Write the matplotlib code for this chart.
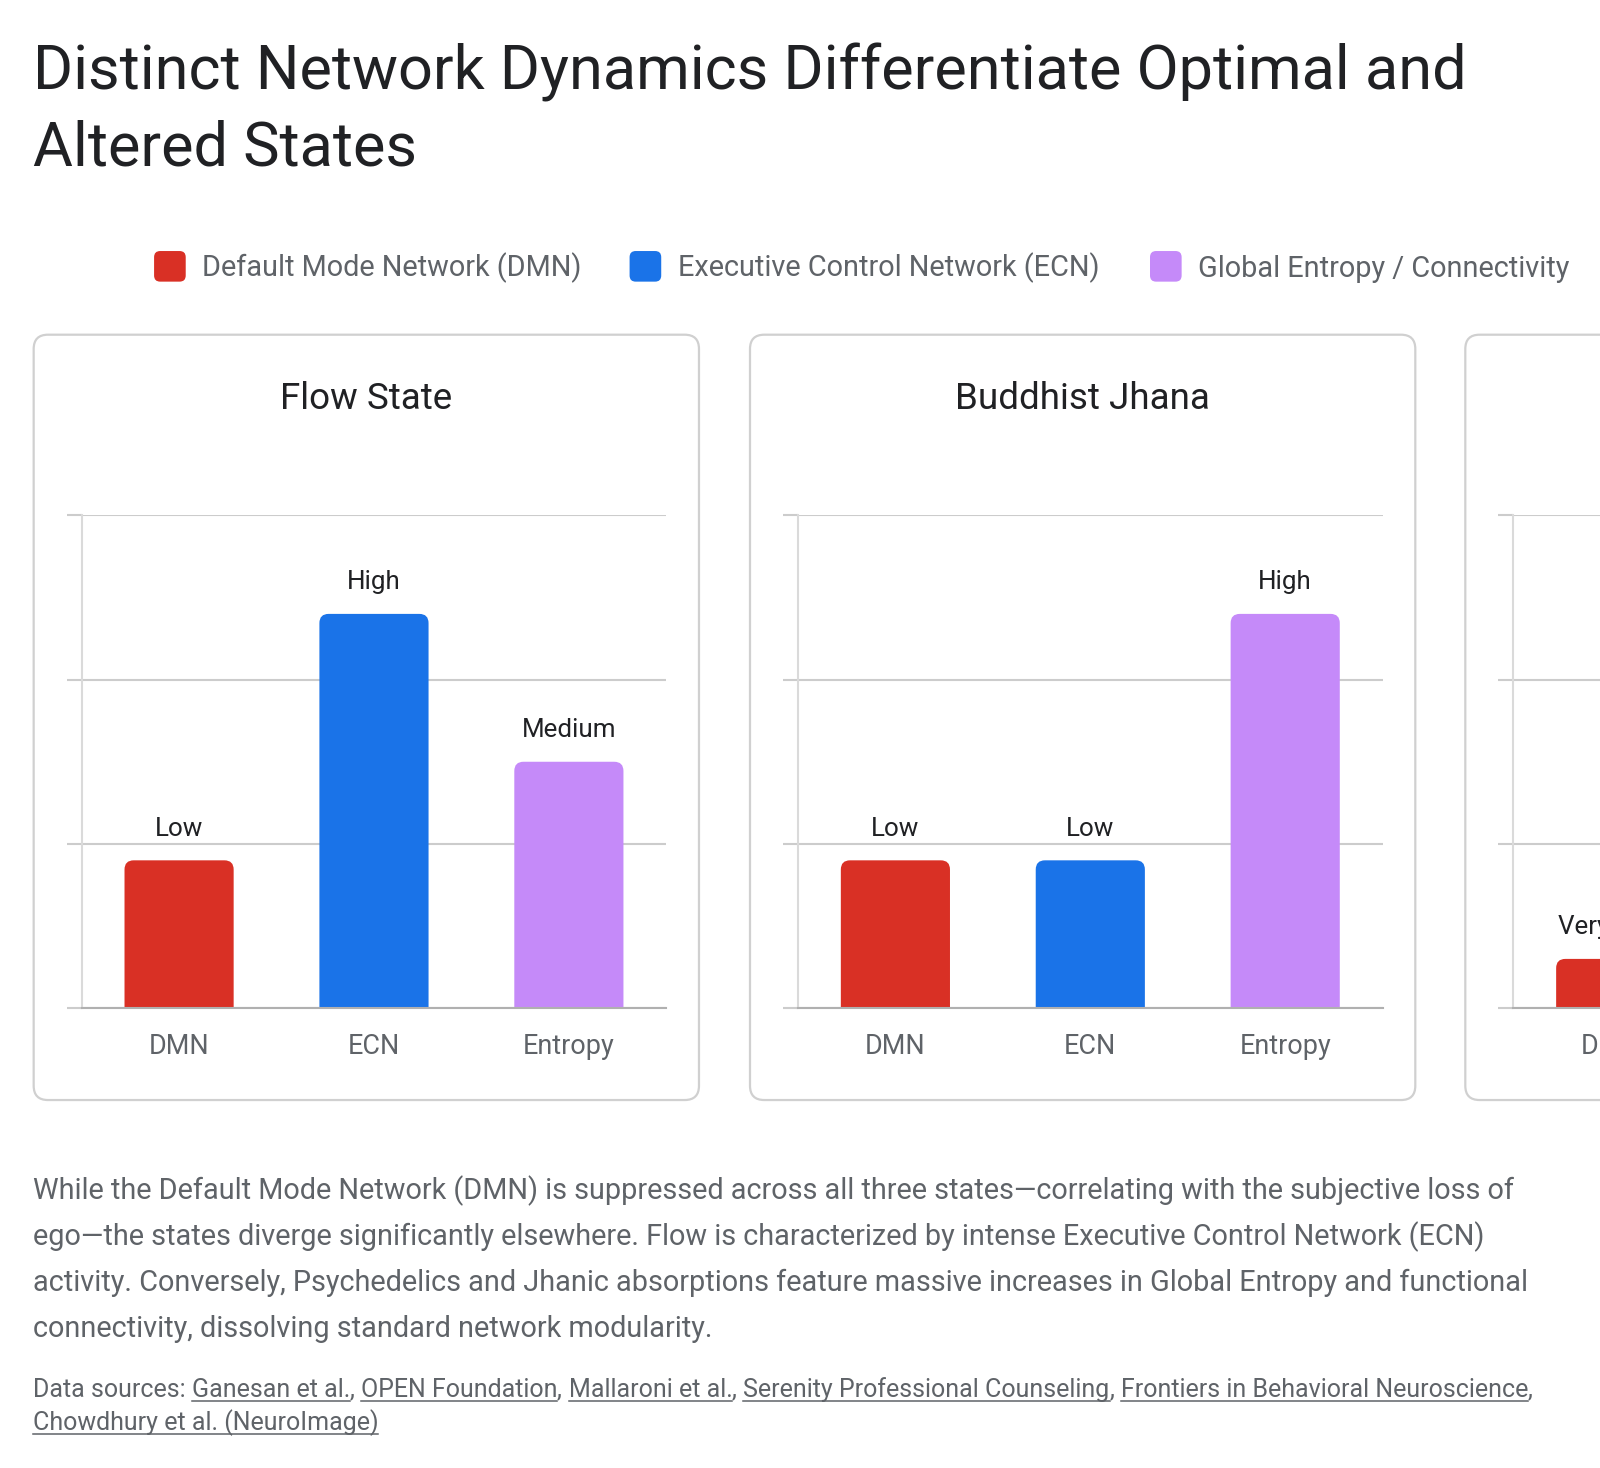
import matplotlib
matplotlib.use("Agg")
import matplotlib.pyplot as plt
from matplotlib.patches import FancyBboxPatch, PathPatch
from matplotlib.path import Path

# ---- data ----
states = ["Flow State", "Buddhist Jhana", "Psychedelic State"]
networks = ["DMN", "ECN", "Entropy"]
legend_labels = ["Default Mode Network (DMN)", "Executive Control Network (ECN)",
                 "Global Entropy / Connectivity"]
colors = ["#d93025", "#1a73e8", "#c58af9"]

flow_values = [30, 80, 50]
flow_labels = ["Low", "High", "Medium"]
jhana_values = [30, 30, 80]
jhana_labels = ["Low", "Low", "High"]
psy_values = [10, 30, 95]
psy_labels = ["Very Low", "Low", "Very High"]

all_values = [flow_values, jhana_values, psy_values]
all_labels = [flow_labels, jhana_labels, psy_labels]

title_lines = ["Distinct Network Dynamics Differentiate Optimal and", "Altered States"]
paragraph = [
    "While the Default Mode Network (DMN) is suppressed across all three states\u2014correlating with the subjective loss of",
    "ego\u2014the states diverge significantly elsewhere. Flow is characterized by intense Executive Control Network (ECN)",
    "activity. Conversely, Psychedelics and Jhanic absorptions feature massive increases in Global Entropy and functional",
    "connectivity, dissolving standard network modularity.",
]
sources = ["Ganesan et al.", "OPEN Foundation", "Mallaroni et al.", "Serenity Professional Counseling",
           "Frontiers in Behavioral Neuroscience", "Chowdhury et al. (NeuroImage)"]

plt.rcParams["font.family"] = ["Roboto", "DejaVu Sans"]

# reference layout is measured on a 1568 wide grid
W0, H0 = 1568.0, 1438.6
SC = 1600.0 / W0


def pt(px):
    return px * SC * 0.72


def rounded_top(x0, w, h, rx, ry):
    x1 = x0 + w
    verts = [(x0, 0), (x1, 0), (x1, h - ry), (x1, h), (x1 - rx, h),
             (x0 + rx, h), (x0, h), (x0, h - ry), (x0, 0)]
    codes = [Path.MOVETO, Path.LINETO, Path.LINETO, Path.CURVE3, Path.CURVE3,
             Path.LINETO, Path.CURVE3, Path.CURVE3, Path.CLOSEPOLY]
    return Path(verts, codes)


fig = plt.figure(figsize=(16, 14.68), dpi=100)
fig.patch.set_facecolor("white")

bg = fig.add_axes([0, 0, 1, 1])
bg.set_xlim(0, W0)
bg.set_ylim(H0, 0)
bg.axis("off")

DARK = "#202124"
GREY = "#5f6368"

for j, line in enumerate(title_lines):
    bg.text(32, 88 + 74 * j, line, fontsize=pt(60), color=DARK, va="baseline")

# legend
leg_x = [151, 617, 1127]
for lx, lab, c in zip(leg_x, legend_labels, colors):
    bg.add_patch(FancyBboxPatch((lx, 246), 31, 30, boxstyle="round,pad=0,rounding_size=6",
                                fc=c, ec="none"))
    bg.text(lx + 47, 271, lab, fontsize=pt(28.3), color=GREY, va="baseline")

# panels
panel_x = [33, 735, 1436]
pw, ph = 652, 750
top, base = 505, 988
for k, px0 in enumerate(panel_x):
    bg.add_patch(FancyBboxPatch((px0, 328), pw, ph, boxstyle="round,pad=0,rounding_size=14",
                                fc="none", ec="#d0d0d0", lw=1.6))
    bg.text(px0 + 326, 401, states[k], fontsize=pt(36), color=DARK, ha="center", va="baseline")

    ax_l = px0 + 47
    ax_r = px0 + 620
    ax = fig.add_axes([ax_l / W0, 1 - base / H0, (ax_r - ax_l) / W0, (base - top) / H0])
    ax.set_xlim(-0.5, 2.5)
    ax.set_ylim(0, 100)
    ax.set_axisbelow(True)
    xs = range(len(networks))
    bars = ax.bar(xs, all_values[k], width=0.56, color=colors, zorder=2)

    # rounded tops
    rx = 9 * 3 / (ax_r - ax_l)
    ry = 9 * 100 / (base - top)
    for rect, c in zip(bars, colors):
        ax.add_patch(PathPatch(rounded_top(rect.get_x(), rect.get_width(), rect.get_height(), rx, ry),
                               fc=c, ec="none", zorder=2))
        rect.set_visible(False)

    for i, (v, lab) in enumerate(zip(all_values[k], all_labels[k])):
        ax.annotate(lab, (i, v), xytext=(0, pt(24)), textcoords="offset points",
                    ha="center", va="baseline", fontsize=pt(25.5), color=DARK)

    ax.set_yticks([0, 100 / 3, 200 / 3, 100])
    ax.set_yticklabels([])
    ax.yaxis.grid(True, color="#cccccc", lw=1.5)
    ax.tick_params(axis="y", length=pt(15), width=1.5, color="#cccccc")
    ax.set_xticks(list(xs))
    ax.set_xticklabels(networks, fontsize=pt(26.5), color=GREY)
    ax.tick_params(axis="x", length=0, pad=pt(24))
    for s in ["top", "right"]:
        ax.spines[s].set_visible(False)
    ax.spines["left"].set_color("#dadada")
    ax.spines["left"].set_linewidth(1.5)
    ax.spines["bottom"].set_color("#b0b0b0")
    ax.spines["bottom"].set_linewidth(1.5)
    ax.patch.set_alpha(0)

# paragraph
for j, line in enumerate(paragraph):
    bg.text(32, 1175 + 45 * j, line, fontsize=pt(28.3), color=GREY, va="baseline")

# data sources with underlined links
fig.canvas.draw()
renderer = fig.canvas.get_renderer()
inv = bg.transData.inverted()


def put(x, y, s, underline=False):
    t = bg.text(x, y, s, fontsize=pt(24.5), color=GREY, va="baseline")
    bb = t.get_window_extent(renderer=renderer)
    (x0, _), (x1, _) = inv.transform([[bb.x0, bb.y0], [bb.x1, bb.y1]])
    if underline:
        bg.plot([x0, x1], [y + 4, y + 4], color=GREY, lw=1.1)
    return x1


y = 1369
x = put(32, y, "Data sources: ")
for n, src in enumerate(sources):
    if n == len(sources) - 1:
        x, y = 32, 1401
    x = put(x, y, src, underline=True)
    if n < len(sources) - 1:
        x = put(x, y, ", ")

fig.savefig("out.png", dpi=100, facecolor="white")
